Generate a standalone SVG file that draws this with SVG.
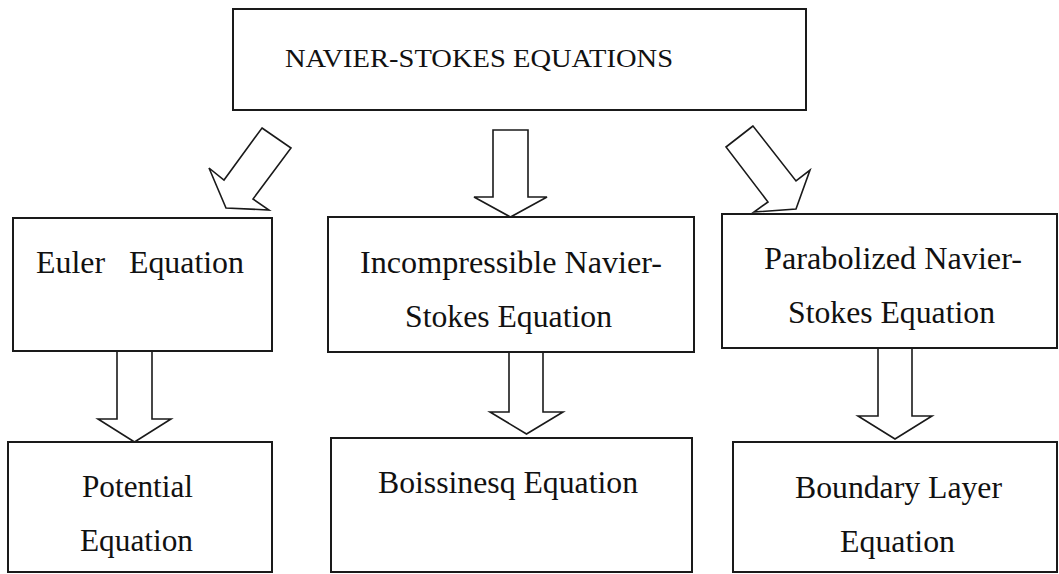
<svg xmlns="http://www.w3.org/2000/svg" width="1059" height="574" viewBox="0 0 1059 574">
<style>
.box{fill:#fff;stroke:#1a1a1a;stroke-width:2}
.arr{fill:#fff;stroke:#1a1a1a;stroke-width:1.6;stroke-linejoin:miter}
.t{font-family:"Liberation Serif","DejaVu Serif",serif;font-size:31px;fill:#111}
.tt{font-family:"Liberation Serif","DejaVu Serif",serif;font-size:26px;fill:#111}
</style>
<rect width="1059" height="574" fill="#fff"/>
<g id="connectors">
<polygon class="arr" points="262,128 291,148 253,199 269,210 226,208 209,168 224,180"/>
<polygon class="arr" points="493,130 528,130 528,197 547,197 510.5,217 474,197 493,197"/>
<polygon class="arr" points="753,126 726,147 768,202 754,212 796,209 810,170 796,181"/>
<polygon class="arr" points="117,351 152,351 152,419 171,419 134.5,442 98,419 117,419"/>
<polygon class="arr" points="509,352 543,352 543,412 563,412 526.5,434 490,412 509,412"/>
<polygon class="arr" points="878,348 912,348 912,416 932,416 895,439 858,416 878,416"/>
</g>
<g id="navier-stokes">
<rect class="box" x="233" y="9" width="573" height="101"/>
<text class="tt" x="285" y="67" textLength="388" lengthAdjust="spacingAndGlyphs">NAVIER-STOKES EQUATIONS</text>
</g>
<g id="euler">
<rect class="box" x="13" y="218" width="259" height="133"/>
<text class="t" x="36" y="273" textLength="208" lengthAdjust="spacingAndGlyphs" xml:space="preserve">Euler   Equation</text>
</g>
<g id="incompressible">
<rect class="box" x="328" y="217" width="366" height="135"/>
<text class="t" x="360" y="273" textLength="302" lengthAdjust="spacingAndGlyphs">Incompressible Navier-</text>
<text class="t" x="405" y="327" textLength="207" lengthAdjust="spacingAndGlyphs">Stokes Equation</text>
</g>
<g id="parabolized">
<rect class="box" x="722" y="214" width="335" height="134"/>
<text class="t" x="764" y="269" textLength="258" lengthAdjust="spacingAndGlyphs">Parabolized Navier-</text>
<text class="t" x="788" y="323" textLength="207" lengthAdjust="spacingAndGlyphs">Stokes Equation</text>
</g>
<g id="potential">
<rect class="box" x="8" y="442" width="264" height="130"/>
<text class="t" x="82" y="497" textLength="111" lengthAdjust="spacingAndGlyphs">Potential</text>
<text class="t" x="80" y="551" textLength="113" lengthAdjust="spacingAndGlyphs">Equation</text>
</g>
<g id="boissinesq">
<rect class="box" x="331" y="438" width="361" height="134"/>
<text class="t" x="378" y="493" textLength="260" lengthAdjust="spacingAndGlyphs">Boissinesq Equation</text>
</g>
<g id="boundary-layer">
<rect class="box" x="733" y="442" width="324" height="130"/>
<text class="t" x="795" y="498" textLength="207" lengthAdjust="spacingAndGlyphs">Boundary Layer</text>
<text class="t" x="840" y="552" textLength="115" lengthAdjust="spacingAndGlyphs">Equation</text>
</g>
</svg>
